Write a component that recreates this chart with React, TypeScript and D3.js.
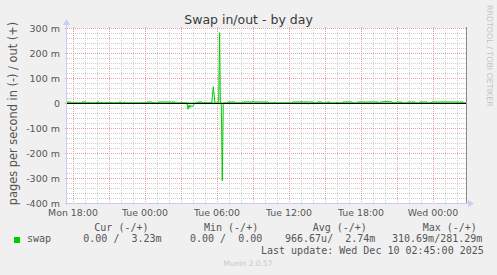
import React from "react";
import * as d3 from "d3";

const W = 497;
const H = 275;

const title = "Swap in/out - by day";
const yAxisTitle = "pages per second in (-) / out (+)";
const sideText = "RRDTOOL / TOBI OETIKER";

// time window (UTC used as wall clock)
const startTime = Date.UTC(2025, 11, 8, 17, 30);
const endTime = Date.UTC(2025, 11, 10, 2, 50);

const xTickLabels = ["Mon 18:00", "Tue 00:00", "Tue 06:00", "Tue 12:00", "Tue 18:00", "Wed 00:00"];
const xTickTimes = [
  Date.UTC(2025, 11, 8, 18, 0),
  Date.UTC(2025, 11, 9, 0, 0),
  Date.UTC(2025, 11, 9, 6, 0),
  Date.UTC(2025, 11, 9, 12, 0),
  Date.UTC(2025, 11, 9, 18, 0),
  Date.UTC(2025, 11, 10, 0, 0),
];

const yTicks = [-400, -300, -200, -100, 0, 100, 200, 300];
const yTickLabels = ["-400 m", "-300 m", "-200 m", "-100 m", "0", "100 m", "200 m", "300 m"];

// "out" series: [hours since Mon 17:30, value in milli-pages/s]
const outPoints: [number, number][] = [
  [0, 4], [0.33, 4], [0.4, 0], [0.7, 0], [0.75, 4], [0.8, 0], [1.2, 0], [1.25, 4], [1.6, 4], [1.65, 0],
  [1.78, 0], [1.83, 4], [1.88, 0], [2.45, 0], [2.5, 4], [2.67, 4], [2.72, 0], [2.85, 0], [2.9, 4], [2.95, 0],
  [3.28, 0], [3.33, 4], [3.38, 0], [3.62, 0], [3.67, 4], [3.72, 0], [4.03, 0], [4.08, 4], [4.13, 0],
  [4.28, 0], [4.33, 4], [4.5, 4], [4.55, 0], [4.7, 0], [4.75, 4], [4.8, 0], [6.62, 0], [6.67, 4], [7.08, 4],
  [7.13, 0], [7.53, 0], [7.58, 4], [9.0, 4], [9.05, 0], [9.53, 0], [9.58, 4], [9.63, 0], [10.85, 0],
  [10.9, 4], [11.25, 4], [11.3, 0], [11.45, 0], [11.5, 4], [11.55, 0], [11.85, 0], [11.9, 4], [11.95, 0],
  [12.06, 0], [12.19, 65], [12.33, 0], [12.45, 0], [12.55, 4], [12.64, 5], [12.72, 281.29], [12.78, 0],
  [13.35, 0], [13.4, 4], [14.0, 4], [14.05, 0], [14.55, 0], [14.6, 4], [15.4, 4], [15.5, 8], [15.6, 4],
  [16.75, 4], [16.8, 0], [17.25, 0], [17.3, 4], [17.35, 0], [18.75, 0], [18.8, 4], [19.5, 4], [19.6, 6],
  [19.7, 4], [20.5, 4], [20.55, 0], [20.85, 0], [20.9, 4], [21.25, 4], [21.3, 0], [21.65, 0], [21.7, 4],
  [21.9, 4], [21.95, 0], [22.45, 0], [22.5, 4], [22.55, 0], [22.95, 0], [23.0, 4], [23.75, 4], [23.8, 0],
  [24.15, 0], [24.2, 4], [25.9, 4], [25.95, 0], [26.05, 0], [26.1, 4], [26.67, 6], [27.1, 4], [27.15, 0],
  [27.45, 0], [27.5, 4], [27.9, 4], [27.95, 0], [28.35, 0], [28.4, 4], [29.0, 4], [29.05, 0], [29.35, 0],
  [29.4, 4], [30.0, 4], [30.05, 0], [30.35, 0], [30.4, 4], [33.0, 4], [33.05, 0], [33.33, 0],
];

// "in" series (drawn negative): [hours since Mon 17:30, value in milli-pages/s]
const inPoints: [number, number][] = [
  [0, 0], [10.0, 0], [10.08, 25], [10.17, 8], [10.25, 18], [10.33, 10], [10.42, 15], [10.5, 12],
  [10.58, 6], [10.67, 0], [12.8, 0], [12.86, 6], [12.94, 310.69], [13.02, 6], [13.1, 0],
  [20.05, 0], [20.1, 5], [20.15, 0], [33.33, 0],
];

const legendName = "swap";
const legendHeaders = ["Cur (-/+)", "Min (-/+)", "Avg (-/+)", "Max (-/+)"];
const legendValues = ["0.00 /  3.23m", "0.00 /  0.00", "966.67u/  2.74m", "310.69m/281.29m"];
const lastUpdate = "Last update: Wed Dec 10 02:45:00 2025";
const footer = "Munin 2.0.57";

const GREEN = "#00cc00";

export default function App() {
  const left = 67;
  const right = 467;
  const top = 28;
  const bottom = 203;

  const x = d3.scaleUtc().domain([startTime, endTime]).range([left, right]);
  const y = d3.scaleLinear().domain([-400, 300]).range([bottom, top]);

  const hourMs = 3600 * 1000;
  const tx = (h: number) => x(startTime + h * hourMs);

  const minorX = x.ticks(d3.utcHour.every(1)!).filter((d) => d.getUTCHours() % 3 !== 0);
  const majorX = x.ticks(d3.utcHour.every(3)!);
  const minorY = d3.range(-400, 301, 20).filter((v) => v % 100 !== 0);
  const majorY = d3.range(-400, 301, 100);

  const lineOut = d3
    .line<[number, number]>()
    .x((d) => tx(d[0]))
    .y((d) => y(d[1]));
  const lineIn = d3
    .line<[number, number]>()
    .x((d) => tx(d[0]))
    .y((d) => y(-d[1]));

  const px = (v: number) => Math.round(v) + 0.5;
  const axisColor = "#c8cdf5";
  const textColor = "#555";

  const headerX = [94.3, 204, 312.7, 422.7];
  const valueX = [83.3, 190, 285, 392];

  return (
    <svg width={W} height={H} style={{ position: "absolute", left: 0, top: 0 }} xmlns="http://www.w3.org/2000/svg">
      <rect x={0} y={0} width={W} height={H} fill="#f0f0f0" />
      <rect x={left} y={top} width={right - left - 1} height={bottom - top} fill="#ffffff" />

      {/* minor grid */}
      {minorX.map((d, i) => (
        <line key={"mx" + i} x1={px(x(d))} x2={px(x(d))} y1={top} y2={bottom} stroke="#cfcfcf" strokeDasharray="1,1" shapeRendering="crispEdges" />
      ))}
      {minorY.map((v, i) => (
        <line key={"my" + i} x1={left} x2={right - 1} y1={px(y(v))} y2={px(y(v))} stroke="#cfcfcf" strokeDasharray="1,1" shapeRendering="crispEdges" />
      ))}
      {/* major grid */}
      {majorX.map((d, i) => (
        <line key={"Mx" + i} x1={px(x(d))} x2={px(x(d))} y1={top - 1} y2={bottom + 2} stroke="#eaa0a0" strokeDasharray="1,1" shapeRendering="crispEdges" />
      ))}
      {majorY.map((v, i) => (
        <line key={"My" + i} x1={left - 2} x2={right - 1} y1={px(y(v))} y2={px(y(v))} stroke="#eaa0a0" strokeDasharray="1,1" shapeRendering="crispEdges" />
      ))}

      {/* data */}
      <path d={lineOut(outPoints) || ""} fill="none" stroke={GREEN} strokeWidth={1} />
      <path d={lineIn(inPoints) || ""} fill="none" stroke={GREEN} strokeWidth={1} />

      {/* zero line */}
      <line x1={left} x2={right - 1} y1={px(y(0))} y2={px(y(0))} stroke="#000" strokeWidth={1} shapeRendering="crispEdges" />

      {/* axes */}
      <line x1={px(left - 1)} x2={px(left - 1)} y1={bottom + 2} y2={top - 5} stroke={axisColor} shapeRendering="crispEdges" />
      <path d={`M${left - 4},${top - 3} L${left - 0.5},${top - 9} L${left + 3},${top - 3} Z`} fill={axisColor} />
      <line x1={left - 2} x2={right + 4} y1={px(bottom)} y2={px(bottom)} stroke={axisColor} shapeRendering="crispEdges" />
      <path d={`M${right + 1},${bottom - 3} L${right + 7},${bottom + 0.5} L${right + 1},${bottom + 4} Z`} fill={axisColor} />
      {/* right frame */}
      <line x1={px(right - 1)} x2={px(right - 1)} y1={top - 1} y2={bottom} stroke="#8a8a8a" shapeRendering="crispEdges" />

      {/* y tick labels */}
      {yTicks.map((v, i) => (
        <text key={"yt" + i} x={60} y={y(v) + 3.5} textAnchor="end" fontFamily="DejaVu Sans" fontSize={9.5} fill={textColor}>
          {yTickLabels[i]}
        </text>
      ))}
      {/* x tick labels */}
      {xTickTimes.map((t, i) => (
        <text key={"xt" + i} x={x(t)} y={215.5} textAnchor="middle" fontFamily="DejaVu Sans" fontSize={9.4} fill={textColor}>
          {xTickLabels[i]}
        </text>
      ))}

      {/* title */}
      <text x={248.5} y={23.5} textAnchor="middle" fontFamily="DejaVu Sans" fontSize={12.5} fill="#3a3a3a">
        {title}
      </text>
      {/* y axis title */}
      <text transform="translate(16.5,113.5) rotate(-90)" textAnchor="middle" fontFamily="DejaVu Sans" fontSize={11.4} fill={textColor}>
        {yAxisTitle}
      </text>
      {/* side text */}
      <text transform="translate(487,5) rotate(90)" textAnchor="start" fontFamily="DejaVu Sans" fontSize={7.9} fill="#c4c4c4">
        {sideText}
      </text>

      {/* legend */}
      <rect x={14} y={237} width={6} height={6} fill={GREEN} />
      <text x={27} y={242} fontFamily="DejaVu Sans Mono" fontSize={10} fill={textColor} xmlSpace="preserve">
        {legendName}
      </text>
      {legendHeaders.map((h, i) => (
        <text key={"lh" + i} x={headerX[i]} y={230.5} fontFamily="DejaVu Sans Mono" fontSize={10} fill={textColor} xmlSpace="preserve" style={{ whiteSpace: "pre" }}>
          {h}
        </text>
      ))}
      {legendValues.map((v, i) => (
        <text key={"lv" + i} x={valueX[i]} y={242} fontFamily="DejaVu Sans Mono" fontSize={10} fill={textColor} xmlSpace="preserve" style={{ whiteSpace: "pre" }}>
          {v}
        </text>
      ))}
      <text x={261} y={254} fontFamily="DejaVu Sans Mono" fontSize={10} fill={textColor} xmlSpace="preserve" style={{ whiteSpace: "pre" }}>
        {lastUpdate}
      </text>
      <text x={248} y={266} textAnchor="middle" fontFamily="DejaVu Sans" fontSize={7.5} fill="#c8c8c8">
        {footer}
      </text>
    </svg>
  );
}
